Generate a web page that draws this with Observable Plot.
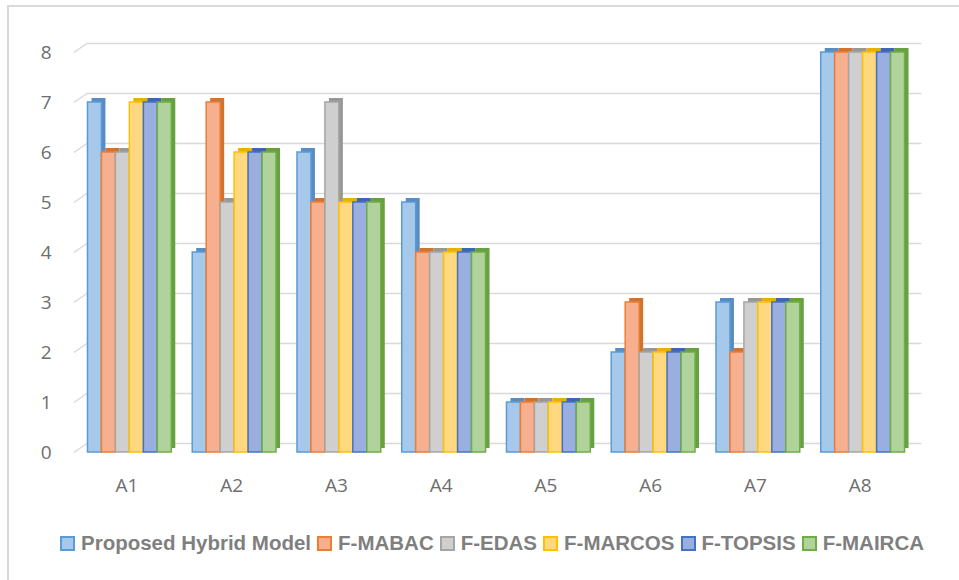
<!DOCTYPE html>
<html>
<head>
<meta charset="utf-8">
<script src="https://cdn.jsdelivr.net/npm/d3@7"></script>
<script src="https://cdn.jsdelivr.net/npm/@observablehq/plot@0.6"></script>
<style>
  html, body { margin: 0; padding: 0; background: #fff; }
  #wrap { position: relative; width: 959px; height: 580px; overflow: hidden; }
  #border { position: absolute; left: 7px; top: 5px; width: 960px; height: 600px;
            border-left: 2px solid #d9d9d9; border-top: 2px solid #d9d9d9; box-sizing: border-box; }
  #chart { position: absolute; left: 0; top: 0; }
  #legend { position: absolute; left: 0; top: 531px; width: 984px; display: flex; justify-content: center;
            font-family: "Liberation Sans", Arial, sans-serif; font-weight: bold; font-size: 20.5px; color: #7f7f7f; }
  .item { display: flex; align-items: center; margin: 0 3px; white-space: nowrap; }
  .sw { width: 11px; height: 11px; border: 2px solid; margin-right: 6px; }
</style>
</head>
<body>
<div id="wrap">
  <div id="border"></div>
  <div id="chart"></div>
  <div id="legend"></div>
</div>
<script>
const categories = ["A1", "A2", "A3", "A4", "A5", "A6", "A7", "A8"];
const seriesNames = ["Proposed Hybrid Model", "F-MABAC", "F-EDAS", "F-MARCOS", "F-TOPSIS", "F-MAIRCA"];
const proposed = [7, 4, 6, 5, 1, 2, 3, 8];
const mabac    = [6, 7, 5, 4, 1, 3, 2, 8];
const edas     = [6, 5, 7, 4, 1, 2, 3, 8];
const marcos   = [7, 6, 5, 4, 1, 2, 3, 8];
const topsis   = [7, 6, 5, 4, 1, 2, 3, 8];
const mairca   = [7, 6, 5, 4, 1, 2, 3, 8];
const yTicks = [0, 1, 2, 3, 4, 5, 6, 7, 8];

const edgeColors  = ["#5B9BD5", "#ED7D31", "#A5A5A5", "#FFC000", "#4472C4", "#70AD47"];
const frontColors = ["#A6C8EA", "#F6B090", "#CFCFCF", "#FFD880", "#9AAEE0", "#AFD39A"];
const depthColors = ["#5A8CC4", "#D2722F", "#979797", "#E8B000", "#3F66B0", "#66A040"];

const allSeries = [proposed, mabac, edas, marcos, topsis, mairca];
const groupPad = 0.1;
const barW = (1 - 2 * groupPad) / allSeries.length;
const rows = [];
allSeries.forEach((vals, j) => {
  vals.forEach((v, i) => {
    const x1 = i + groupPad + j * barW;
    rows.push({cat: categories[i], series: seriesNames[j], j, value: v, x1, x2: x1 + barW});
  });
});

const DY = 0.18;   // back-wall depth (data units)
const plot = Plot.plot({
  width: 959,
  height: 505,
  marginLeft: 77,
  marginRight: 44,
  marginTop: 52,
  marginBottom: 53,
  x: {type: "linear", domain: [0, 8], axis: null},
  y: {domain: [0, 8], axis: null},
  style: {fontFamily: "'Open Sans', sans-serif", background: "transparent"},
  marks: [
    Plot.ruleY(yTicks, {y: d => d + DY, x1: 0.09, x2: 8.06, stroke: "#d9d9d9", strokeWidth: 1.5}),
    Plot.link(yTicks, {x1: -0.035, y1: d => d, x2: 0.09, y2: d => d + DY, stroke: "#d9d9d9", strokeWidth: 1.5}),
    Plot.rect(rows, {x1: "x1", x2: "x2", y1: 0, y2: "value", dx: 4, dy: -4,
      fill: d => depthColors[d.j]}),
    Plot.rect(rows, {x1: "x1", x2: "x2", y1: 0, y2: "value",
      fill: d => frontColors[d.j], stroke: d => edgeColors[d.j], strokeWidth: 1.5}),
    Plot.text(yTicks, {x: 0, y: d => d, text: d => String(d), dx: -26, textAnchor: "end",
      fontSize: 19, fill: "#6e6e6e"}),
    Plot.text(categories, {x: (d, i) => i + 0.5, y: 0, text: d => d, dy: 33, dx: -3,
      fontSize: 19, fill: "#6e6e6e"})
  ]
});
document.getElementById("chart").appendChild(plot);

const legend = d3.select("#legend");
seriesNames.forEach((name, j) => {
  const item = legend.append("div").attr("class", "item");
  item.append("div").attr("class", "sw")
    .style("background", frontColors[j]).style("border-color", edgeColors[j]);
  item.append("span").text(name);
});
</script>
</body>
</html>
